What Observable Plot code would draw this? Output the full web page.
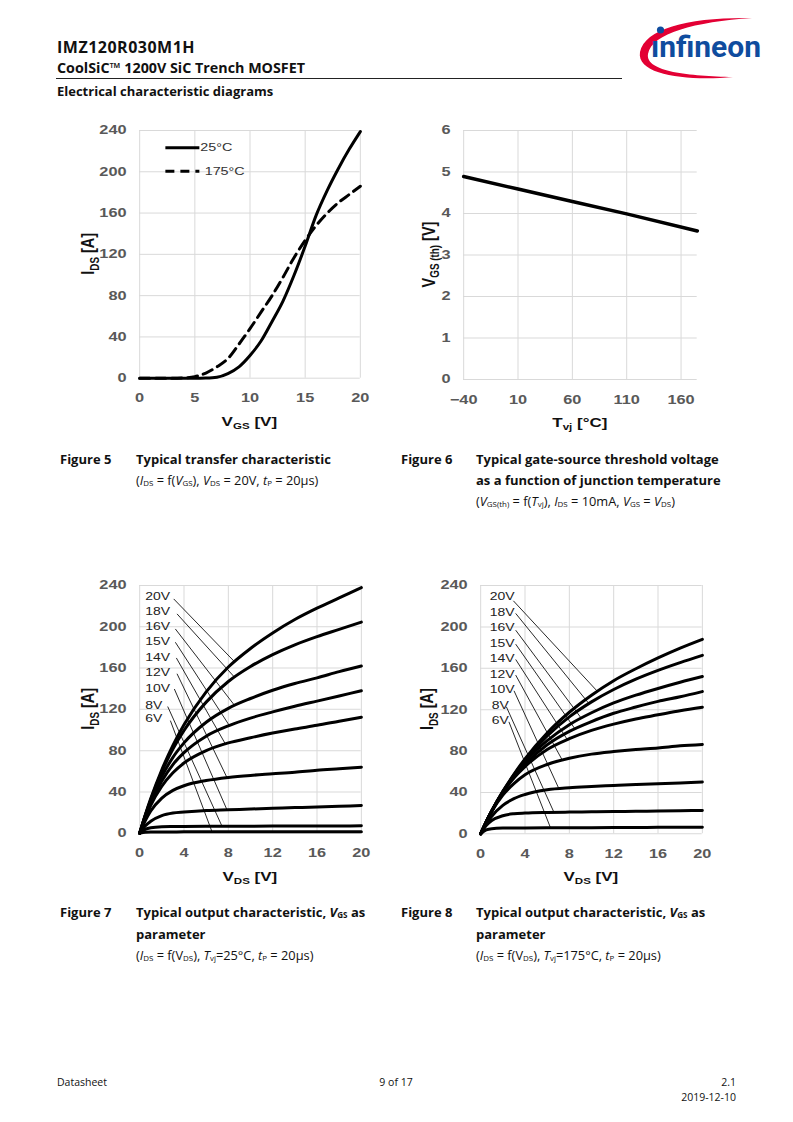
<!DOCTYPE html>
<html><head><meta charset="utf-8">
<script src="https://cdn.jsdelivr.net/npm/d3@7"></script>
<script src="https://cdn.jsdelivr.net/npm/@observablehq/plot@0.6"></script>
<style>
html,body{margin:0;padding:0;background:#fff;}
#page{position:relative;width:793px;height:1122px;overflow:hidden;background:#fff;font-family:"Open Sans",Lato,sans-serif;color:#111;}
.t{position:absolute;white-space:nowrap;line-height:16px;height:16px;}
.b{font-weight:bold;}
.cap{font-size:13px;font-weight:bold;}
.par{font-size:12.8px;}
sub{font-size:0.62em;vertical-align:-0.12em;line-height:0;}
svg.chart path, svg.chart line{vector-effect:non-scaling-stroke;}
</style></head><body><div id="page">
<div class="t b" style="left:57px;top:39px;font-size:16px;letter-spacing:0.5px;">IMZ120R030M1H</div>
<div class="t b" style="left:57px;top:60px;font-size:14.3px;">CoolSiC™ 1200V SiC Trench MOSFET</div>
<div style="position:absolute;left:56px;top:78px;width:566px;height:1px;background:#222;"></div>
<div class="t b" style="left:57px;top:83px;font-size:13px;">Electrical characteristic diagrams</div>

<svg style="position:absolute;left:620px;top:10px;" width="160" height="75" viewBox="620 10 160 75">
  <path d="M 733 77 C 690 81, 636 76, 640 52 C 645 28, 690 17, 752 18 C 695 22, 652 33, 648 54 C 645 72, 690 76, 733 77 Z" fill="#e30034"/>
  <circle cx="660.5" cy="30" r="3.6" fill="#0f4c9e"/>
  <text x="651" y="57" font-family="Roboto, 'Liberation Sans', sans-serif" font-weight="bold" font-size="30" fill="#0f4c9e" textLength="110" lengthAdjust="spacingAndGlyphs">ınfineon</text>
</svg>

<div class="t cap" style="left:60px;top:451px;">Figure 5</div>
<div class="t cap" style="left:136px;top:451px;">Typical transfer characteristic</div>
<div class="t par" style="left:136px;top:472px;">(<i>I</i><sub>DS</sub> = f(<i>V</i><sub>GS</sub>), <i>V</i><sub>DS</sub> = 20V, <i>t</i><sub>P</sub> = 20µs)</div>

<div class="t cap" style="left:401px;top:451px;">Figure 6</div>
<div class="t cap" style="left:476px;top:451px;">Typical gate-source threshold voltage</div>
<div class="t cap" style="left:476px;top:472px;">as a function of junction temperature</div>
<div class="t par" style="left:476px;top:493px;">(<i>V</i><sub>GS(th)</sub> = f(<i>T</i><sub>vj</sub>), <i>I</i><sub>DS</sub> = 10mA, <i>V</i><sub>GS</sub> = <i>V</i><sub>DS</sub>)</div>

<div class="t cap" style="left:60px;top:904px;">Figure 7</div>
<div class="t cap" style="left:136px;top:904px;">Typical output characteristic, <i>V</i><sub>GS</sub> as</div>
<div class="t cap" style="left:136px;top:926px;">parameter</div>
<div class="t par" style="left:136px;top:947px;">(<i>I</i><sub>DS</sub> = f(V<sub>DS</sub>), <i>T</i><sub>vj</sub>=25°C, <i>t</i><sub>P</sub> = 20µs)</div>

<div class="t cap" style="left:401px;top:904px;">Figure 8</div>
<div class="t cap" style="left:476px;top:904px;">Typical output characteristic, <i>V</i><sub>GS</sub> as</div>
<div class="t cap" style="left:476px;top:926px;">parameter</div>
<div class="t par" style="left:476px;top:947px;">(<i>I</i><sub>DS</sub> = f(V<sub>DS</sub>), <i>T</i><sub>vj</sub>=175°C, <i>t</i><sub>P</sub> = 20µs)</div>

<div class="t" style="left:57px;top:1074px;font-size:10.5px;">Datasheet</div>
<div class="t" style="left:346px;width:100px;text-align:center;top:1074px;font-size:10.5px;">9 of 17</div>
<div class="t" style="right:57px;top:1074px;font-size:10.5px;text-align:right;">2.1</div>
<div class="t" style="right:57px;top:1089px;font-size:10.5px;text-align:right;">2019-12-10</div>
</div>
<script>
// ---------- Figure 5: transfer characteristic ----------
const vgs = [0,1,2,3,4,5,6,7,8,9,10,11,12,13,14,15,16,17,18,19,20];
const ids25C = [0,0,0,0,0,0,0.2,1,4.5,11,22,36,55,75,100,128,158,182,203,222,239];
const ids175C = [0,0,0,0,0.3,1.5,5,11,19,33,48,64,80,98,117,133.5,148,160,170,178,186];
const legend5Labels = ["25°C","175°C"];
const legend5X1 = [2.33,2.33];
const legend5X2 = [5.41,5.41];
const legend5Y = [223.3,200.6];
const legend5TextX = [5.49,5.89];

// ---------- Figure 6: threshold voltage ----------
const tvj = [-40,10,60,110,175];
const vgsth = [4.89,4.59,4.29,3.99,3.58];

// ---------- Figures 7 & 8: output characteristics ----------
const vds = [0,0.5,1,2,3,4,6,8,10,12,14,16,18,20];
const vgsLabels = ["20V","18V","16V","15V","14V","12V","10V","8V","6V"];
// 25 °C
const t25_20V = [0,17.5,33.5,61.5,85,105,137,161,179,194,207,218,228,238];
const t25_18V = [0,17,32.5,59.5,81.5,99.5,127,147,161.5,173,182.5,190.5,197.5,204.5];
const t25_16V = [0,17,31.5,55,73.5,87.5,107.5,121,130.5,138.5,145,150.5,156.5,162];
const t25_15V = [0,16,29.5,50.5,66.5,78,94,104,111.5,117.5,123,128,133,138];
const t25_14V = [0,14.5,27,45.5,58.5,68,80,87.5,92.5,97,101,104.5,108.5,112.4];
const t25_12V = [0,12,21.5,34,41.5,46,51,54,56,57.5,59,61,62.5,64];
const t25_10V = [0,7,11.5,17,19.5,20.5,22,22.7,23.4,24.1,24.8,25.4,26.1,26.8];
const t25_8V = [0,3.7,5.3,6.3,6.5,6.6,6.7,6.75,6.8,6.85,6.9,6.95,7.0,7.1];
const t25_6V = [0,0.8,1.1,1.2,1.25,1.3,1.3,1.35,1.35,1.4,1.4,1.45,1.5,1.5];
// 175 °C
const t175_20V = [0,11.5,22,41,57.5,72.5,97.5,117.5,134,148,159.5,170,179.5,188];
const t175_18V = [0,11.5,22,40.5,57,71,94.5,113,127.5,139.5,149.5,158,165.5,172.5];
const t175_16V = [0,11.5,22,40.5,56,69.5,90,105.5,117,126.5,134,140.5,146.5,152];
const t175_15V = [0,11.5,22,40,55,67,86,99,108.5,116.5,122.5,128,132.5,137.5];
const t175_14V = [0,11.5,22,40,54,65,81.5,92,100,106,111,115,119,122.4];
const t175_12V = [0,11.5,21.5,37.5,48.5,57,67,73,77,79.5,81.5,83,85,86.3];
const t175_10V = [0,9.5,17,27.5,34,38,42.5,44.5,45.7,46.7,47.6,48.4,49.2,50];
const t175_8V = [0,8,12.8,17.5,19.4,20.1,20.7,21,21.3,21.5,21.8,22,22.3,22.5];
const t175_6V = [0,3.7,4.95,5.5,5.63,5.68,5.77,5.86,5.95,6.04,6.13,6.22,6.31,6.4];

// label annotations (data units)
const lab7X = [0.51,0.51,0.51,0.51,0.51,0.51,0.51,0.51,0.51];
const lab7Y = [229.4,214.4,199.8,185.3,170.2,155.3,140.2,123.9,111];
const lead7X1 = [3.07,3.37,3.22,3.22,3.31,3.37,3.13,2.53,2.77];
const lead7Y1 = [227,212.5,197.9,185,169.8,154.5,139.7,122.7,109.1];
const lead7X2 = [8.57,8.57,8.57,8.09,7.73,7.88,7.88,7.43,6.53];
const lead7Y2 = [166,151,123.7,104.3,86.5,53.8,22.6,6.7,1.3];

const lab8X = [0.81,0.81,0.81,0.81,0.81,0.81,0.81,1.0,1.0];
const lab8Y = [229.4,213.6,199.1,183.6,169.1,153.9,139.2,124.0,109.5];
const lead8X1 = [2.95,3.16,3.16,3.16,3.16,3.16,3.01,2.32,2.55];
const lead8Y1 = [225.2,213,196.8,183.3,168.5,153.4,138.2,122.7,108.2];
const lead8X2 = [10.53,9.77,9.08,8.51,7.82,7.37,7.06,6.61,6.3];
const lead8Y2 = [137.7,125.8,111.7,101.4,91,71.1,43.6,20.8,5.8];

// tick values
const ticks5X = [0,5,10,15,20];
const ticksI = [0,40,80,120,160,200,240];
const ticks6X = [-40,10,60,110,160];
const ticks6Y = [0,1,2,3,4,5,6];
const ticksVds = [0,4,8,12,16,20];

// ---------- helpers ----------
const SX = 1.33;
const page = document.getElementById("page");
const CHART_FONT = '"Liberation Sans", Arial, sans-serif';

function addRich(t, parts, size) {
  let shifted = false;
  for (const [txt, isSub] of parts) {
    const ts = t.append("tspan").text(txt);
    if (isSub) {
      ts.attr("font-size", size * 0.68);
      if (!shifted) { ts.attr("dy", size * 0.24); shifted = true; }
    } else {
      ts.attr("font-size", size);
      if (shifted) { ts.attr("dy", -size * 0.24); shifted = false; }
    }
  }
}

function makeChart({frame, xDomain, yDomain, xTicks, yTicks, marks, xLabel, yLabel, yLabelOffset}) {
  const padL = 85, padR = 22, padT = 15, padB = 62;
  const fw = frame.x1 - frame.x0, fh = frame.y1 - frame.y0;
  const W = fw + padL + padR, H = fh + padT + padB;
  const svg = Plot.plot({
    width: W / SX, height: H,
    marginLeft: padL / SX, marginRight: padR / SX, marginTop: padT, marginBottom: padB,
    x: {domain: xDomain}, y: {domain: yDomain},
    style: {fontFamily: CHART_FONT, fontSize: "12.3px", fontWeight: "bold", color: "#595959", background: "none", overflow: "visible"},
    marks: [
      Plot.gridX(xTicks, {stroke: "#d9d9d9", strokeOpacity: 1, strokeWidth: 1}),
      Plot.gridY(yTicks, {stroke: "#d9d9d9", strokeOpacity: 1, strokeWidth: 1}),
      Plot.axisX(xTicks, {tickSize: 0, tickPadding: 15.5, label: null}),
      Plot.axisY(yTicks, {tickSize: 0, tickPadding: 13 / SX, label: null}),
      ...marks
    ]
  });
  svg.classList.add("chart");
  svg.setAttribute("preserveAspectRatio", "none");
  svg.style.position = "absolute";
  svg.style.left = (frame.x0 - padL) + "px";
  svg.style.top = (frame.y0 - padT) + "px";
  svg.style.width = W + "px";
  svg.style.height = H + "px";
  svg.style.maxWidth = "none";
  const s = d3.select(svg);
  const xl = s.append("text")
    .attr("x", (padL + fw / 2) / SX).attr("y", padT + fh + 48)
    .attr("text-anchor", "middle").attr("fill", "#111").attr("font-weight", "bold")
    .attr("font-family", CHART_FONT);
  addRich(xl, xLabel, 12.8);
  const yx = (padL - yLabelOffset) / SX, yy = padT + fh / 2;
  const yl = s.append("text")
    .attr("transform", `translate(${yx},${yy}) rotate(-90)`)
    .attr("text-anchor", "middle").attr("fill", "#111").attr("font-weight", "bold")
    .attr("font-family", CHART_FONT);
  addRich(yl, yLabel, 14.5);
  page.appendChild(svg);
}

// ---------- Figure 5 ----------
const rows25 = vgs.map((v, i) => ({x: v, y: ids25C[i]}));
const rows175 = vgs.map((v, i) => ({x: v, y: ids175C[i]}));
const leg5 = legend5Labels.map((l, i) => ({l, x1: legend5X1[i], x2: legend5X2[i], y: legend5Y[i], tx: legend5TextX[i]}));
makeChart({
  frame: {x0: 139.3, x1: 360, y0: 130, y1: 377.7},
  xDomain: [0, 20], yDomain: [0, 240], xTicks: ticks5X, yTicks: ticksI,
  xLabel: [["V"], ["GS", 1], ["\u00a0[V]"]],
  yLabel: [["I"], ["DS", 1], ["\u00a0[A]"]],
  yLabelOffset: 44.6,
  marks: [
    Plot.line(rows175, {x: "x", y: "y", stroke: "#000", strokeWidth: 3, strokeDasharray: "10,6", curve: "monotone-x"}),
    Plot.line(rows25, {x: "x", y: "y", stroke: "#000", strokeWidth: 3, curve: "monotone-x"}),
    Plot.link([leg5[0]], {x1: "x1", x2: "x2", y1: "y", y2: "y", stroke: "#000", strokeWidth: 3}),
    Plot.link([leg5[1]], {x1: "x1", x2: "x2", y1: "y", y2: "y", stroke: "#000", strokeWidth: 3, strokeDasharray: "9,6"}),
    Plot.text(leg5, {x: "tx", y: "y", text: "l", textAnchor: "start", fontSize: 10.8, fontWeight: "normal", fill: "#333"})
  ]
});

// ---------- Figure 6 ----------
makeChart({
  frame: {x0: 463.3, x1: 697, y0: 130, y1: 379},
  xDomain: [-40, 175], yDomain: [0, 6], xTicks: ticks6X, yTicks: ticks6Y,
  xLabel: [["T"], ["vj", 1], ["\u00a0[°C]"]],
  yLabel: [["V"], ["GS (th)", 1], ["\u00a0[V]"]],
  yLabelOffset: 28.4,
  marks: [
    Plot.line(tvj.map((t, i) => ({x: t, y: vgsth[i]})), {x: "x", y: "y", stroke: "#000", strokeWidth: 3.5})
  ]
});

// ---------- Figures 7 & 8 ----------
function curveRows(arrs) {
  return arrs.flatMap((arr, i) => arr.map((v, j) => ({x: vds[j], y: v, k: vgsLabels[i]})));
}
function annRows(lx, ly, x1, y1, x2, y2) {
  return vgsLabels.map((l, i) => ({l, lx: lx[i], ly: ly[i], x1: x1[i], y1: y1[i], x2: x2[i], y2: y2[i]}));
}
function outputMarks(rows, ann) {
  return [
    Plot.link(ann, {x1: "x1", y1: "y1", x2: "x2", y2: "y2", stroke: "#111", strokeWidth: 0.9}),
    Plot.line(rows, {x: "x", y: "y", z: "k", stroke: "#000", strokeWidth: 3, curve: "monotone-x"}),
    Plot.text(ann, {x: "lx", y: "ly", text: "l", textAnchor: "start", fontSize: 10.5, fontWeight: "normal", fill: "#222"})
  ];
}
makeChart({
  frame: {x0: 139.3, x1: 361, y0: 585, y1: 832.7},
  xDomain: [0, 20], yDomain: [0, 240], xTicks: ticksVds, yTicks: ticksI,
  xLabel: [["V"], ["DS", 1], ["\u00a0[V]"]],
  yLabel: [["I"], ["DS", 1], ["\u00a0[A]"]],
  yLabelOffset: 45,
  marks: outputMarks(
    curveRows([t25_20V, t25_18V, t25_16V, t25_15V, t25_14V, t25_12V, t25_10V, t25_8V, t25_6V]),
    annRows(lab7X, lab7Y, lead7X1, lead7Y1, lead7X2, lead7Y2))
});
makeChart({
  frame: {x0: 480, x1: 701.7, y0: 585, y1: 833.3},
  xDomain: [0, 20], yDomain: [0, 240], xTicks: ticksVds, yTicks: ticksI,
  xLabel: [["V"], ["DS", 1], ["\u00a0[V]"]],
  yLabel: [["I"], ["DS", 1], ["\u00a0[A]"]],
  yLabelOffset: 46.7,
  marks: outputMarks(
    curveRows([t175_20V, t175_18V, t175_16V, t175_15V, t175_14V, t175_12V, t175_10V, t175_8V, t175_6V]),
    annRows(lab8X, lab8Y, lead8X1, lead8Y1, lead8X2, lead8Y2))
});
</script></body></html>
